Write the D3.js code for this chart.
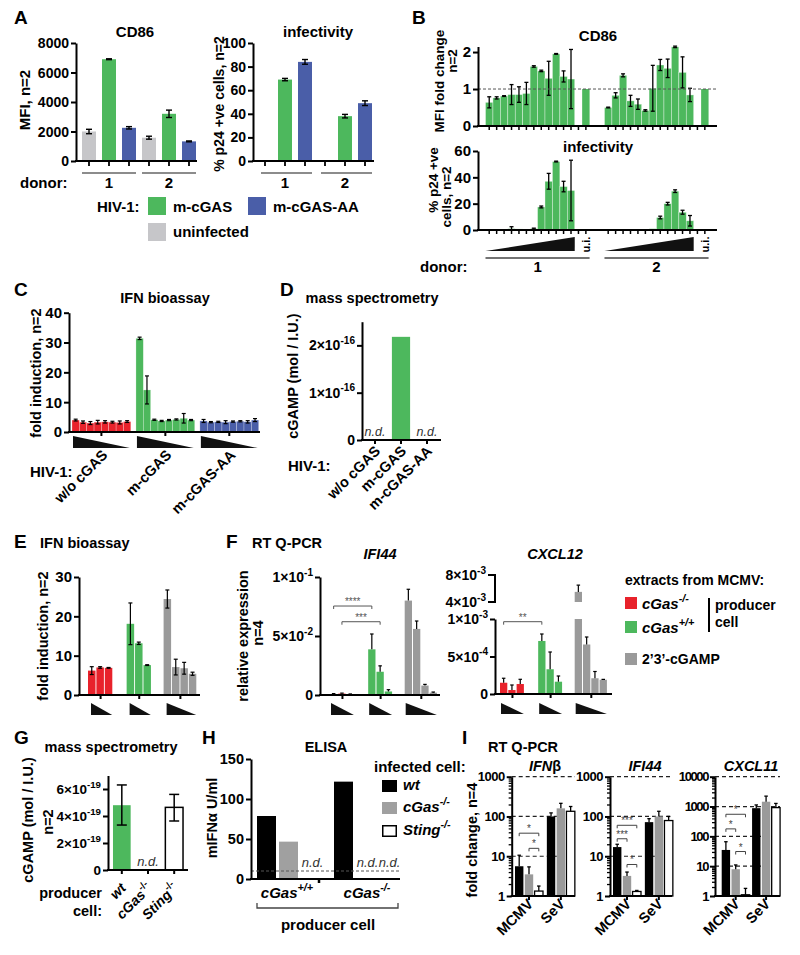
<!DOCTYPE html>
<html><head><meta charset="utf-8">
<script src="https://cdn.jsdelivr.net/npm/d3@7"></script>
<style>
body{margin:0;background:#fff;}
svg{font-family:"Liberation Sans",Arial,sans-serif;font-weight:bold;}
</style></head><body>
<svg id="c" width="800" height="955"></svg>
<script>
// ================= DATA =================
// Panel A
const aDonors = ["1","2"];
const aGroups = ["uninfected","m-cGAS","m-cGAS-AA","uninfected","m-cGAS","m-cGAS-AA"];
const aCD86 = [2000,6900,2250,1580,3200,1330];
const aCD86Err = [150,30,80,100,250,30];
const aInf = [null,69,84,null,38,49];
const aInfErr = [0,1,2,0,1.5,2];
const aCD86Ticks = [0,2000,4000,6000,8000];
const aInfTicks = [0,20,40,60,80,100];
// Panel B (12 doses per donor + uninfected)
const bCD86D1 = [0.64,0.76,0.81,0.85,0.85,0.88,1.61,1.49,1.29,1.95,1.34,1.27];
const bCD86D1Err = [0.15,0.03,0.01,0.27,0.21,0.3,0.02,0.02,0.46,0.01,0.15,0.8];
const bCD86D2 = [0.5,0.83,1.37,0.68,0.59,0.42,1.02,1.65,1.56,2.14,1.45,0.84];
const bCD86D2Err = [0.01,0.07,0.04,0.15,0.14,0.02,0.62,0.15,0.25,0.02,0.42,0.18];
const bCD86UI = [1.0,1.0];
const bInfD1 = [0,0,0,1,0.8,0.5,1,17.5,37,52,33,30];
const bInfD1Err = [0,0,0,1.5,0,0,0.4,0.7,6,0.3,4,23];
const bInfD2 = [0,0,0,0,0,0,1,9.5,20,29.5,13.5,7];
const bInfD2Err = [0,0,0,0,0,0,0,1,1,1,1.5,4];
const bCD86Ticks = [0,1,2];
const bInfTicks = [0,20,40,60];
// Panel C
const cCats = ["w/o cGAS","m-cGAS","m-cGAS-AA"];
const cRed = [4.0,3.3,3.0,3.3,3.4,3.3,3.2,3.5];
const cRedErr = [0.3,0.4,0.5,0.6,0.4,0.3,0.5,0.3];
const cGreen = [31.4,14.1,4.1,3.7,4.0,4.2,4.6,4.0];
const cGreenErr = [0.4,4.7,0.2,0.2,0.2,0.2,1.6,0.2];
const cBlue = [3.7,3.3,3.4,3.3,3.5,3.6,3.4,4.0];
const cBlueErr = [0.5,0.2,0.2,0.5,0.2,0.2,0.4,0.5];
const cTicks = [0,10,20,30,40];
// Panel D
const dCats = ["w/o cGAS","m-cGAS","m-cGAS-AA"];
const dVals = [null,2.18e-16,null];
const dTicks = [0,1e-16,2e-16];
// Panel E
const eRed = [6.2,7.0,6.9], eRedErr = [1.0,0.2,0.1];
const eGreen = [18.1,13.15,7.6], eGreenErr = [5.3,0.3,0.1];
const eGray = [24.4,7.1,6.8,5.4], eGrayErr = [2.3,2.0,1.5,0.4];
const eTicks = [0,10,20,30];
// Panel F
const fIFI44Red = [0.0008,0.0012,0.0006], fIFI44RedErr = [0.0004,0.0004,0.0003];
const fIFI44Green = [0.0387,0.0197,0.003], fIFI44GreenErr = [0.013,0.005,0.0015];
const fIFI44Gray = [0.08,0.056,0.008,0.002], fIFI44GrayErr = [0.0096,0.0067,0.001,0.0005];
const fCXCL12Red = [1.5e-4,0.53e-4,1.33e-4], fCXCL12RedErr = [0.6e-4,0.67e-4,0.63e-4];
const fCXCL12Green = [7.07e-4,3.3e-4,1.64e-4], fCXCL12GreenErr = [0.93e-4,2.3e-4,0.76e-4];
const fCXCL12Gray = [5.5e-3,6.6e-4,2.1e-4,1.9e-4], fCXCL12GrayErr = [1e-3,1e-4,0.9e-4,0.05e-4];
const fIFI44Ticks = [0,0.05,0.1];
const fCXCL12Ticks = [0,5e-4,1e-3];
const fCXCL12UpperTicks = [4e-3,8e-3];
// Panel G
const gCats = ["wt","cGas","Sting"];
const gVals = [4.8e-19,null,4.64e-19];
const gErrLo = [3.33e-19,null,3.63e-19];
const gErrHi = [6.3e-19,null,5.6e-19];
const gTicks = [0,2e-19,4e-19,6e-19];
// Panel H
const hProducers = ["cGas+/+","cGas-/-"];
const hWt = [78.75,121.7];
const hCgasKO = [46.7,null];
const hStingKO = [null,null];
const hTicks = [0,50,100,150];
const hDetectionLimit = 10;
// Panel I
const iGenes = ["IFNβ","IFI44","CXCL11"];
const iViruses = ["MCMV","SeV"];
const iWt =    [[5.6,100],[17,72],[35,880]];
const iWtErr = [[10.6,123],[20,88],[66,1130]];
const iCg =    [[3.5,160],[3.2,100],[7.9,1450]];
const iCgErr = [[5.4,214],[4.0,135],[11,2230]];
const iSt =    [[1.33,135],[1.3,79],[1.1,920]];
const iStErr = [[1.78,178],[1.38,100],[1.8,1270]];

// ================= HELPERS =================
const svg = d3.select("#c");
const GREEN="#4db85d", BLUE="#4a5ea8", LGRAY="#c6c6c9", RED="#e8222b", MGRAY="#9a9a9a", HGRAY="#a0a0a0";

function RT(x,y,parts,o={}){
  const size=o.size||14;
  const t=svg.append("text").attr("x",x).attr("y",y).attr("font-size",size)
    .attr("text-anchor",o.anchor||"start").attr("font-weight",o.weight||"bold").attr("fill",o.fill||"#000");
  if(o.italic) t.attr("font-style","italic");
  if(o.rot!=null) t.attr("transform",`rotate(${o.rot},${x},${y})`);
  if(o.ls!=null) t.attr("letter-spacing",o.ls);
  let up=false;
  (Array.isArray(parts)?parts:[parts]).forEach(p=>{
    const s=typeof p==="string"?{t:p}:p;
    const ts=t.append("tspan").text(s.t);
    if(s.sup){ ts.attr("font-size",size*0.72); if(!up){ts.attr("dy",-size*0.45);up=true;} }
    else if(up){ ts.attr("dy",size*0.45); up=false; }
    if(s.it!=null) ts.attr("font-style",s.it?"italic":"normal");
  });
  return t;
}
function line(x1,y1,x2,y2,o={}){
  return svg.append("line").attr("x1",x1).attr("y1",y1).attr("x2",x2).attr("y2",y2)
    .attr("stroke",o.color||"#000").attr("stroke-width",o.sw||2).attr("stroke-dasharray",o.dash||null);
}
function rect(x,y0,y1,w,fill,o={}){
  return svg.append("rect").attr("x",x).attr("y",Math.min(y0,y1)).attr("width",w)
    .attr("height",Math.abs(y1-y0)).attr("fill",fill).attr("stroke",o.stroke||"none").attr("stroke-width",o.sw||0)
    .attr("stroke-opacity",o.so==null?1:o.so);
}
function err(cx,yTop,yBot,cap,o={}){
  const g=svg.append("g").attr("stroke",o.color||"#000").attr("stroke-width",o.sw||1.4);
  g.append("line").attr("x1",cx).attr("x2",cx).attr("y1",yTop).attr("y2",yBot);
  g.append("line").attr("x1",cx-cap/2).attr("x2",cx+cap/2).attr("y1",yTop).attr("y2",yTop);
  if(!o.upOnly) g.append("line").attr("x1",cx-cap/2).attr("x2",cx+cap/2).attr("y1",yBot).attr("y2",yBot);
}
function axisY(x,sc,ticks,labels,o={}){
  const ts=o.ts||5;
  const g=svg.append("g").attr("transform",`translate(${x},0)`)
    .call(d3.axisLeft(sc).tickValues(ticks).tickSize(ts).tickSizeOuter(0).tickFormat(""));
  g.select(".domain").attr("stroke","#000").attr("stroke-width",o.sw||2);
  g.selectAll(".tick line").attr("stroke","#000").attr("stroke-width",o.sw||2);
  ticks.forEach((v,i)=>RT(x-ts-2, sc(v)+(o.size||14)*0.36, labels[i], {anchor:"end",size:o.size||14,ls:o.ls}));
  return g;
}
function tri(x0,x1,yT,yB,dir){ // dir 'up' = rising to right, 'down' = falling
  const pts = dir==="up" ? [[x0,yB],[x1,yT],[x1,yB]] : [[x0,yT],[x0,yB],[x1,yB]];
  svg.append("path").attr("d",d3.line()(pts)+"Z").attr("fill","#111");
}
function bracket(x1,x2,y,label,o={}){
  svg.append("path").attr("d",`M${x1},${y+3}V${y}H${x2}V${y+3}`).attr("fill","none")
    .attr("stroke",o.color||"#555").attr("stroke-width",1);
  RT((x1+x2)/2,y+(o.dy||0)-1,label,{anchor:"middle",size:o.size||10,fill:o.color||"#555",weight:"normal"});
}
const fmtSci = (m,e)=>[m+"×10",{t:e,sup:true}];

// ================= PANEL A =================
RT(14,24,"A",{size:19});
{
  const y=d3.scaleLinear().domain([0,8000]).range([161,43]);
  const x=d3.scaleBand().domain(d3.range(6)).range([79,199]).paddingInner(0.3).paddingOuter(0.15);
  const bw=x.bandwidth();
  const col={"uninfected":LGRAY,"m-cGAS":GREEN,"m-cGAS-AA":BLUE};
  aCD86.forEach((v,i)=>{
    rect(x(i),y(0),y(v),bw,col[aGroups[i]]);
    err(x(i)+bw/2,y(v+aCD86Err[i]),y(v-aCD86Err[i]),6);
  });
  axisY(76,y,aCD86Ticks,aCD86Ticks.map(String),{size:14});
  line(75,161,197,161);
  d3.range(6).forEach(i=>line(x(i)+bw/2,161,x(i)+bw/2,166,{sw:1.8}));
  RT(135,37,"CD86",{anchor:"middle",size:15});
  RT(30,100,"MFI, n=2",{rot:-90,anchor:"middle",size:15});
  [[0,2],[3,5]].forEach((r,k)=>{
    line(x(r[0]),173,x(r[1])+bw,173,{sw:1.5,color:"#666"});
    RT((x(r[0])+x(r[1])+bw)/2,188,aDonors[k],{anchor:"middle",size:15});
  });
  RT(20,188,"donor:",{size:15});
}
{
  const y=d3.scaleLinear().domain([0,100]).range([161,43]);
  const x=d3.scaleBand().domain(d3.range(6)).range([255,375]).paddingInner(0.3).paddingOuter(0.15);
  const bw=x.bandwidth();
  const col={"uninfected":LGRAY,"m-cGAS":GREEN,"m-cGAS-AA":BLUE};
  aInf.forEach((v,i)=>{
    if(v==null) return;
    rect(x(i),y(0),y(v),bw,col[aGroups[i]]);
    err(x(i)+bw/2,y(v+aInfErr[i]),y(v-aInfErr[i]),6);
  });
  axisY(253,y,aInfTicks,aInfTicks.map(String),{size:14});
  line(252,161,374,161);
  d3.range(6).forEach(i=>line(x(i)+bw/2,161,x(i)+bw/2,166,{sw:1.8}));
  RT(318,37,"infectivity",{anchor:"middle",size:15});
  RT(224,104,"% p24 +ve cells, n=2",{rot:-90,anchor:"middle",size:14});
  [[0,2],[3,5]].forEach((r,k)=>{
    line(x(r[0])+3,173,x(r[1])+bw,173,{sw:1.5,color:"#666"});
    RT((x(r[0])+x(r[1])+bw)/2,188,aDonors[k],{anchor:"middle",size:15});
  });
}
// legend A
RT(97,212,"HIV-1:",{size:15});
svg.append("rect").attr("x",148).attr("y",197).attr("width",18).attr("height",18).attr("fill",GREEN);
RT(173,212,"m-cGAS",{size:15});
svg.append("rect").attr("x",248).attr("y",197).attr("width",18).attr("height",18).attr("fill",BLUE);
RT(273,212,"m-cGAS-AA",{size:15});
svg.append("rect").attr("x",148).attr("y",223).attr("width",18).attr("height",18).attr("fill",LGRAY);
RT(173,237,"uninfected",{size:15});

// ================= PANEL B =================
RT(412,24,"B",{size:19});
{
  const x=d3.scaleBand().domain(d3.range(31)).range([485.5,716]).paddingInner(0);
  const bw=x.bandwidth();
  const slot=(d,i)=>d===0?i:16+i;
  const uiSlot=[13,29];
  // CD86
  const y=d3.scaleLinear().domain([0,2.15]).range([126,46.5]);
  [[bCD86D1,bCD86D1Err],[bCD86D2,bCD86D2Err]].forEach(([vals,errs],d)=>{
    vals.forEach((v,i)=>rect(x(slot(d,i)),y(0),y(v),bw,GREEN,{stroke:"#fff",sw:0.6,so:0.6}));
    rect(x(uiSlot[d]),y(0),y(bCD86UI[d]),bw,GREEN);
  });
  [[bCD86D1,bCD86D1Err],[bCD86D2,bCD86D2Err]].forEach(([vals,errs],d)=>{
    vals.forEach((v,i)=>err(x(slot(d,i))+bw/2,y(v+errs[i]),y(v-errs[i]),4,{sw:1.3}));
  });
  line(478,y(1),717,y(1),{sw:1,dash:"3,2",color:"#555"});
  axisY(478,y,bCD86Ticks,bCD86Ticks.map(String),{size:15});
  line(477,126,717,126);
  d3.range(31).filter(s=>s<14||(s>15&&s<30)).forEach(s=>line(x(s)+bw/2,126,x(s)+bw/2,130,{sw:1.5}));
  RT(598,41,"CD86",{anchor:"middle",size:15});
  RT(444,81,"MFI fold change",{rot:-90,anchor:"middle",size:13.5});
  RT(457,61,"n=2",{rot:-90,anchor:"middle",size:13.5});
  // infectivity
  const y2=d3.scaleLinear().domain([0,60]).range([230,151]);
  [[bInfD1,bInfD1Err],[bInfD2,bInfD2Err]].forEach(([vals,errs],d)=>{
    vals.forEach((v,i)=>{ if(v>0) rect(x(slot(d,i)),y2(0),y2(v),bw,GREEN,{stroke:"#fff",sw:0.6,so:0.6}); });
  });
  [[bInfD1,bInfD1Err],[bInfD2,bInfD2Err]].forEach(([vals,errs],d)=>{
    vals.forEach((v,i)=>{ if(errs[i]>0) err(x(slot(d,i))+bw/2,y2(v+errs[i]),y2(Math.max(0,v-errs[i])),4,{sw:1.3}); });
  });
  axisY(478,y2,bInfTicks,bInfTicks.map(String),{size:15});
  line(477,230,717,230);
  d3.range(31).filter(s=>s<14||(s>15&&s<30)).forEach(s=>line(x(s)+bw/2,230,x(s)+bw/2,234,{sw:1.5}));
  RT(598,152,"infectivity",{anchor:"middle",size:15});
  RT(438,180,"% p24 +ve",{rot:-90,anchor:"middle",size:13.5});
  RT(451,197,"cells, n=2",{rot:-90,anchor:"middle",size:13.5});
  // triangles & donors
  [0,1].forEach(d=>{
    tri(x(slot(d,0)),x(slot(d,11))+bw,237,251,"up");
    RT(x(uiSlot[d])+bw/2+4,244.5,"u.i.",{rot:-90,anchor:"middle",size:11});
    line(x(slot(d,0)),258,x(uiSlot[d])+bw,258,{sw:1.5,color:"#444"});
    RT((x(slot(d,0))+x(uiSlot[d])+bw)/2,272,aDonors[d],{anchor:"middle",size:15});
  });
  RT(420,272,"donor:",{size:15});
}

// ================= PANEL C =================
RT(14,296,"C",{size:19});
{
  const y=d3.scaleLinear().domain([0,40]).range([432,312.7]);
  const x=d3.scaleLinear().domain([0,25.4]).range([72,258.7]);
  const off=8.7, w=x(1)-x(0);
  const groups=[[cRed,cRedErr,RED],[cGreen,cGreenErr,GREEN],[cBlue,cBlueErr,BLUE]];
  groups.forEach(([vals,errs,col],g)=>vals.forEach((v,i)=>rect(x(g*off+i),y(0),y(v),w,col,{stroke:"#fff",sw:0.5,so:0.5})));
  groups.forEach(([vals,errs,col],g)=>vals.forEach((v,i)=>err(x(g*off+i)+w/2,y(v+errs[i]),y(v-errs[i]),4,{sw:1.2})));
  axisY(69,y,cTicks,cTicks.map(String),{size:15});
  line(68,432,260,432);
  groups.forEach((_,g)=>{
    const cx=x(g*off+4);
    line(cx,432,cx,436,{sw:2});
    tri(x(g*off)+1,x(g*off+8)-1,436,448,"down");
    RT(cx+7,456,cCats[g],{anchor:"end",rot:-45,size:14.5});
  });
  RT(165,303,"IFN bioassay",{anchor:"middle",size:14.5});
  RT(41,373,"fold induction, n=2",{rot:-90,anchor:"middle",size:14.5});
  RT(30,477,"HIV-1:",{size:15});
}

// ================= PANEL D =================
RT(280,296,"D",{size:19});
{
  const y=d3.scaleLinear().domain([0,2.5e-16]).range([440,321.7]);
  const x=d3.scaleBand().domain(dCats).range([362,440]).paddingInner(0.3).paddingOuter(0.15);
  const bw=x.bandwidth();
  dCats.forEach((c,i)=>{
    if(dVals[i]!=null) rect(x(c),y(0),y(dVals[i]),bw,GREEN);
    else RT(x(c)+bw/2,436,"n.d.",{anchor:"middle",size:12.5,italic:true,weight:"normal",fill:"#333"});
  });
  axisY(362,y,dTicks,[["0"],fmtSci("1","-16"),fmtSci("2","-16")],{size:14});
  line(361,440,441,440);
  dCats.forEach(c=>{ const cx=x(c)+bw/2; line(cx,440,cx,444,{sw:2}); RT(cx+6,452,c,{anchor:"end",rot:-45,size:14.5}); });
  RT(372,303,"mass spectrometry",{anchor:"middle",size:14.5});
  RT(298,376,"cGAMP (mol / I.U.)",{rot:-90,anchor:"middle",size:14.5});
  RT(288,471,"HIV-1:",{size:15});
}

// ================= PANEL E =================
const efStart=[0,4.6,9];
RT(14,548,"E",{size:19});
RT(40,548,"IFN bioassay",{size:14.5});
{
  const y=d3.scaleLinear().domain([0,30]).range([695,577]);
  const x=d3.scaleLinear().domain([0,13]).range([88,197.2]);
  const w=(x(1)-x(0))-0.9;
  const groups=[[eRed,eRedErr,RED],[eGreen,eGreenErr,GREEN],[eGray,eGrayErr,MGRAY]];
  groups.forEach(([vals,errs,col],g)=>vals.forEach((v,i)=>{
    const bx=x(efStart[g]+i);
    rect(bx,y(0),y(v),w,col);
    err(bx+w/2,y(v+errs[i]),y(v-errs[i]),4,{sw:1.2});
  }));
  axisY(79,y,eTicks,eTicks.map(String),{size:15});
  line(78,695,200,695);
  groups.forEach(([vals],g)=>{
    const cx=x(efStart[g]+vals.length/2);
    line(cx,695,cx,699,{sw:2});
    tri(x(efStart[g])+3,x(efStart[g]+vals.length)-1,703,715,"down");
  });
  RT(48,636,"fold induction, n=2",{rot:-90,anchor:"middle",size:14.5});
}

// ================= PANEL F =================
RT(226,548,"F",{size:19});
RT(252,548,"RT Q-PCR",{size:14.5});
RT(248,636,"relative expression",{rot:-90,anchor:"middle",size:14.5});
RT(263,633,"n=4",{rot:-90,anchor:"middle",size:14.5});
{ // IFI44
  const y=d3.scaleLinear().domain([0,0.1]).range([695,577]);
  const x=d3.scaleLinear().domain([0,13]).range([330,437.9]);
  const w=(x(1)-x(0))-1;
  const groups=[[fIFI44Red,fIFI44RedErr,RED],[fIFI44Green,fIFI44GreenErr,GREEN],[fIFI44Gray,fIFI44GrayErr,MGRAY]];
  groups.forEach(([vals,errs,col],g)=>vals.forEach((v,i)=>{
    const bx=x(efStart[g]+i);
    rect(bx,y(0),y(v),w,col);
    err(bx+w/2,y(v+errs[i]),y(v),3.5,{sw:1.2,upOnly:true});
  }));
  axisY(320,y,fIFI44Ticks,[["0"],fmtSci("5","-2"),fmtSci("1","-1")],{size:14});
  line(319,695,440,695);
  groups.forEach(([vals],g)=>{
    const cx=x(efStart[g]+vals.length/2);
    line(cx,695,cx,699,{sw:2});
    tri(x(efStart[g])+1,x(efStart[g]+vals.length)-1,703,715,"down");
  });
  bracket(x(0)+w/2,x(efStart[1])+w/2,y(0.0754),"****");
  bracket(x(1)+w/2,x(efStart[1]+1)+w/2,y(0.0621),"***");
  RT(380,559,"IFI44",{anchor:"middle",size:14.5,italic:true});
}
{ // CXCL12
  const y=d3.scaleLinear().domain([0,1e-3]).range([694,619]);
  const yU=d3.scaleLinear().domain([4e-3,8e-3]).range([602,575]);
  const x=d3.scaleLinear().domain([0,13]).range([500,607.9]);
  const w=(x(1)-x(0))-1;
  const pos=v=>v>1e-3?yU(v):y(v);
  const groups=[[fCXCL12Red,fCXCL12RedErr,RED],[fCXCL12Green,fCXCL12GreenErr,GREEN],[fCXCL12Gray,fCXCL12GrayErr,MGRAY]];
  groups.forEach(([vals,errs,col],g)=>vals.forEach((v,i)=>{
    const bx=x(efStart[g]+i);
    if(v>1e-3){
      rect(bx,y(0),y(1e-3),w,col);
      rect(bx,yU(4e-3),yU(v),w,col);
    } else rect(bx,y(0),y(v),w,col);
    err(bx+w/2,pos(v+errs[i]),pos(v),3.5,{sw:1.2,upOnly:true});
  }));
  axisY(495,y,fCXCL12Ticks,[["0"],fmtSci("5","-4"),fmtSci("1","-3")],{size:14});
  // upper segment of broken axis
  line(495,yU(8e-3),495,yU(4e-3));
  fCXCL12UpperTicks.forEach(v=>{ line(488,yU(v),496,yU(v)); RT(486,yU(v)+5,fmtSci(String(v*1000),"-3"),{anchor:"end",size:14}); });
  line(494,694,612,694);
  groups.forEach(([vals],g)=>{
    const cx=x(efStart[g]+vals.length/2);
    line(cx,694,cx,698,{sw:2});
    tri(x(efStart[g])+1,x(efStart[g]+vals.length)-1,703,714,"down");
  });
  bracket(x(0)+w/2,x(efStart[1])+w/2,y(9.64e-4),"**");
  RT(555,559,"CXCL12",{anchor:"middle",size:14.5,italic:true});
}
// legend F
RT(625,585,"extracts from MCMV:",{size:14});
svg.append("rect").attr("x",625).attr("y",597).attr("width",12).attr("height",12).attr("fill",RED);
RT(642,609,[{t:"cGas",it:true},{t:"-/-",sup:true,it:true}],{size:15});
svg.append("rect").attr("x",625).attr("y",621).attr("width",12).attr("height",12).attr("fill",GREEN);
RT(642,633,[{t:"cGas",it:true},{t:"+/+",sup:true,it:true}],{size:15});
line(709,598,709,632,{sw:2});
RT(715,610,"producer",{size:14});
RT(715,627,"cell",{size:14});
svg.append("rect").attr("x",625).attr("y",653).attr("width",12).attr("height",12).attr("fill",MGRAY);
RT(642,664,"2’3’-cGAMP",{size:14});

// ================= PANEL G =================
RT(14,744,"G",{size:19});
RT(111,752,"mass spectrometry",{anchor:"middle",size:14.5});
{
  const y=d3.scaleLinear().domain([0,7e-19]).range([870,775.5]);
  const x=d3.scaleBand().domain(gCats).range([108,188]).paddingInner(0.325).paddingOuter(0.19);
  const bw=x.bandwidth();
  gCats.forEach((c,i)=>{
    if(gVals[i]==null){ RT(x(c)+bw/2,866,"n.d.",{anchor:"middle",size:13,italic:true,weight:"normal",fill:"#333"}); return; }
    rect(x(c),y(0),y(gVals[i]),bw,i===0?GREEN:"#fff",{stroke:i===0?"none":"#000",sw:1.5});
    err(x(c)+bw/2,y(gErrHi[i]),y(gErrLo[i]),10,{sw:1.5});
  });
  axisY(108,y,gTicks,[["0"],fmtSci("2","-19"),fmtSci("4","-19"),fmtSci("6","-19")],{size:13.5});
  line(107,870,188,870);
  gCats.forEach(c=>line(x(c)+bw/2,870,x(c)+bw/2,874,{sw:2}));
  RT(x("wt")+bw/2+5,889,[{t:"wt",it:true}],{anchor:"end",rot:-45,size:14});
  RT(x("cGas")+bw/2+5,889,[{t:"cGas",it:true},{t:"-/-",sup:true}],{anchor:"end",rot:-45,size:14});
  RT(x("Sting")+bw/2+5,889,[{t:"Sting",it:true},{t:"-/-",sup:true}],{anchor:"end",rot:-45,size:14});
  RT(33,820,"cGAMP (mol / I.U.)",{rot:-90,anchor:"middle",size:14.5});
  RT(53,822,"n=2",{rot:-90,anchor:"middle",size:14.5});
  RT(102,898,"producer",{anchor:"end",size:14.5});
  RT(102,916,"cell:",{anchor:"end",size:14.5});
}

// ================= PANEL H =================
RT(202,744,"H",{size:19});
RT(326,752,"ELISA",{anchor:"middle",size:14.5});
{
  const y=d3.scaleLinear().domain([0,150]).range([879,759]);
  const x=d3.scaleLinear().domain([0,1]).range([257,279]);
  const gOff=3.5, w=19;
  const series=[[hWt,"#000"],[hCgasKO,HGRAY],[hStingKO,"#fff"]];
  hProducers.forEach((p,g)=>series.forEach(([vals,col],i)=>{
    const bx=x(g*gOff+i);
    if(vals[g]==null) RT(bx+w/2+2,867,"n.d.",{anchor:"middle",size:13,italic:true,weight:"normal",fill:"#333"});
    else rect(bx,y(0),y(vals[g]),w,col);
  }));
  line(251,y(hDetectionLimit),400,y(hDetectionLimit),{sw:1,dash:"3,2",color:"#555"});
  axisY(251,y,hTicks,hTicks.map(String),{size:14.5});
  line(250,879,400,879);
  line(x(2.75)+1.5,879,x(2.75)+1.5,883,{sw:2.5});
  RT(287,898,[{t:"cGas",it:true},{t:"+/+",sup:true,it:true}],{anchor:"middle",size:15});
  RT(367,898,[{t:"cGas",it:true},{t:"-/-",sup:true,it:true}],{anchor:"middle",size:15});
  svg.append("path").attr("d","M257,903V908H398V903").attr("fill","none").attr("stroke","#444").attr("stroke-width",1.3);
  RT(328,930,"producer cell",{anchor:"middle",size:15});
  RT(217,818,[{t:"mIFN"},{t:"α",it:false,}," U/ml"],{rot:-90,anchor:"middle",size:14.5});
}
// legend H
RT(374,772,"infected cell:",{size:15});
svg.append("rect").attr("x",382).attr("y",780).attr("width",15).attr("height",12).attr("fill","#000");
RT(403,790,[{t:"wt",it:true}],{size:15});
svg.append("rect").attr("x",382).attr("y",802).attr("width",15).attr("height",12).attr("fill",HGRAY);
RT(403,812,[{t:"cGas",it:true},{t:"-/-",sup:true,it:true}],{size:15});
svg.append("rect").attr("x",382.75).attr("y",825.75).attr("width",13.5).attr("height",10.5).attr("fill","#fff").attr("stroke","#000").attr("stroke-width",1.5);
RT(403,835,[{t:"Sting",it:true},{t:"-/-",sup:true,it:true}],{size:15});

// ================= PANEL I =================
RT(462,744,"I",{size:19});
RT(488,752,"RT Q-PCR",{size:14.5});
RT(477,840,"fold change, n=4",{rot:-90,anchor:"middle",size:14.5});
{
  const cfg=[
    {ax:511.7,end:575,top:1000,x0:515,sev:3.25,br:[[0,2,38,"*"],[1,2,15.8,"*"]],title:[{t:"IFN",it:true},{t:"β",it:false}],tc:545},
    {ax:610,end:672,top:1000,x0:613,sev:3.25,br:[[0,2,60,"***"],[0,1,27.5,"***"],[1,2,6.2,"*"]],title:[{t:"IFI44",it:true}],tc:645},
    {ax:715,end:780,top:10000,x0:721.7,sev:3.1,br:[[0,2,550,"*"],[0,1,178,"*"],[1,2,31,"*"]],title:[{t:"CXCL11",it:true}],tc:751}
  ];
  cfg.forEach((c,k)=>{
    const y=d3.scaleLog().domain([1,c.top]).range([896,776.7]);
    const x=d3.scaleLinear().domain([0,1]).range([c.x0,c.x0+9.8]);
    const w=8.4;
    const majors=d3.range(0,Math.log10(c.top)+1).map(e=>Math.pow(10,e));
    majors.slice(1).forEach(m=>line(c.ax,y(m),c.end,y(m),{sw:1.2,dash:"4,3",color:"#222"}));
    const series=[[iWt,iWtErr,"#000"],[iCg,iCgErr,MGRAY],[iSt,iStErr,"#fff"]];
    iViruses.forEach((v,g)=>series.forEach(([vals,errs,col],i)=>{
      const bx=x(g*c.sev+i);
      const val=vals[k][g];
      rect(bx,y(1),y(val),w,col,{stroke:col==="#fff"?"#000":"none",sw:1.3});
      err(bx+w/2,y(errs[k][g]),y(val),3.5,{sw:1.3,upOnly:true});
    }));
    axisY(c.ax,y,majors,majors.map(String),{size:13,ls:c.top>1000?-1.4:-0.5});
    const minors=[]; majors.slice(0,-1).forEach(m=>{for(let j=2;j<10;j++) minors.push(m*j);});
    svg.append("g").attr("transform",`translate(${c.ax},0)`).call(d3.axisLeft(y).tickValues(minors).tickSize(3).tickFormat(""))
      .call(g=>g.select(".domain").remove()).selectAll("line").attr("stroke","#000").attr("stroke-width",1.3);
    line(c.ax-1,896,c.end,896);
    iViruses.forEach((v,g)=>{
      const cx=x(g*c.sev+1)+w/2;
      line(cx,896,cx,900,{sw:2});
      RT(cx+5,905,v,{anchor:"end",rot:-45,size:14.5});
    });
    c.br.forEach(([a,b,val,lab])=>bracket(x(a)+w/2,x(b)+w/2,y(val),lab,{size:10,color:"#444"}));
    RT(c.tc,771,c.title,{anchor:"middle",size:14.5});
  });
}
</script></body></html>
